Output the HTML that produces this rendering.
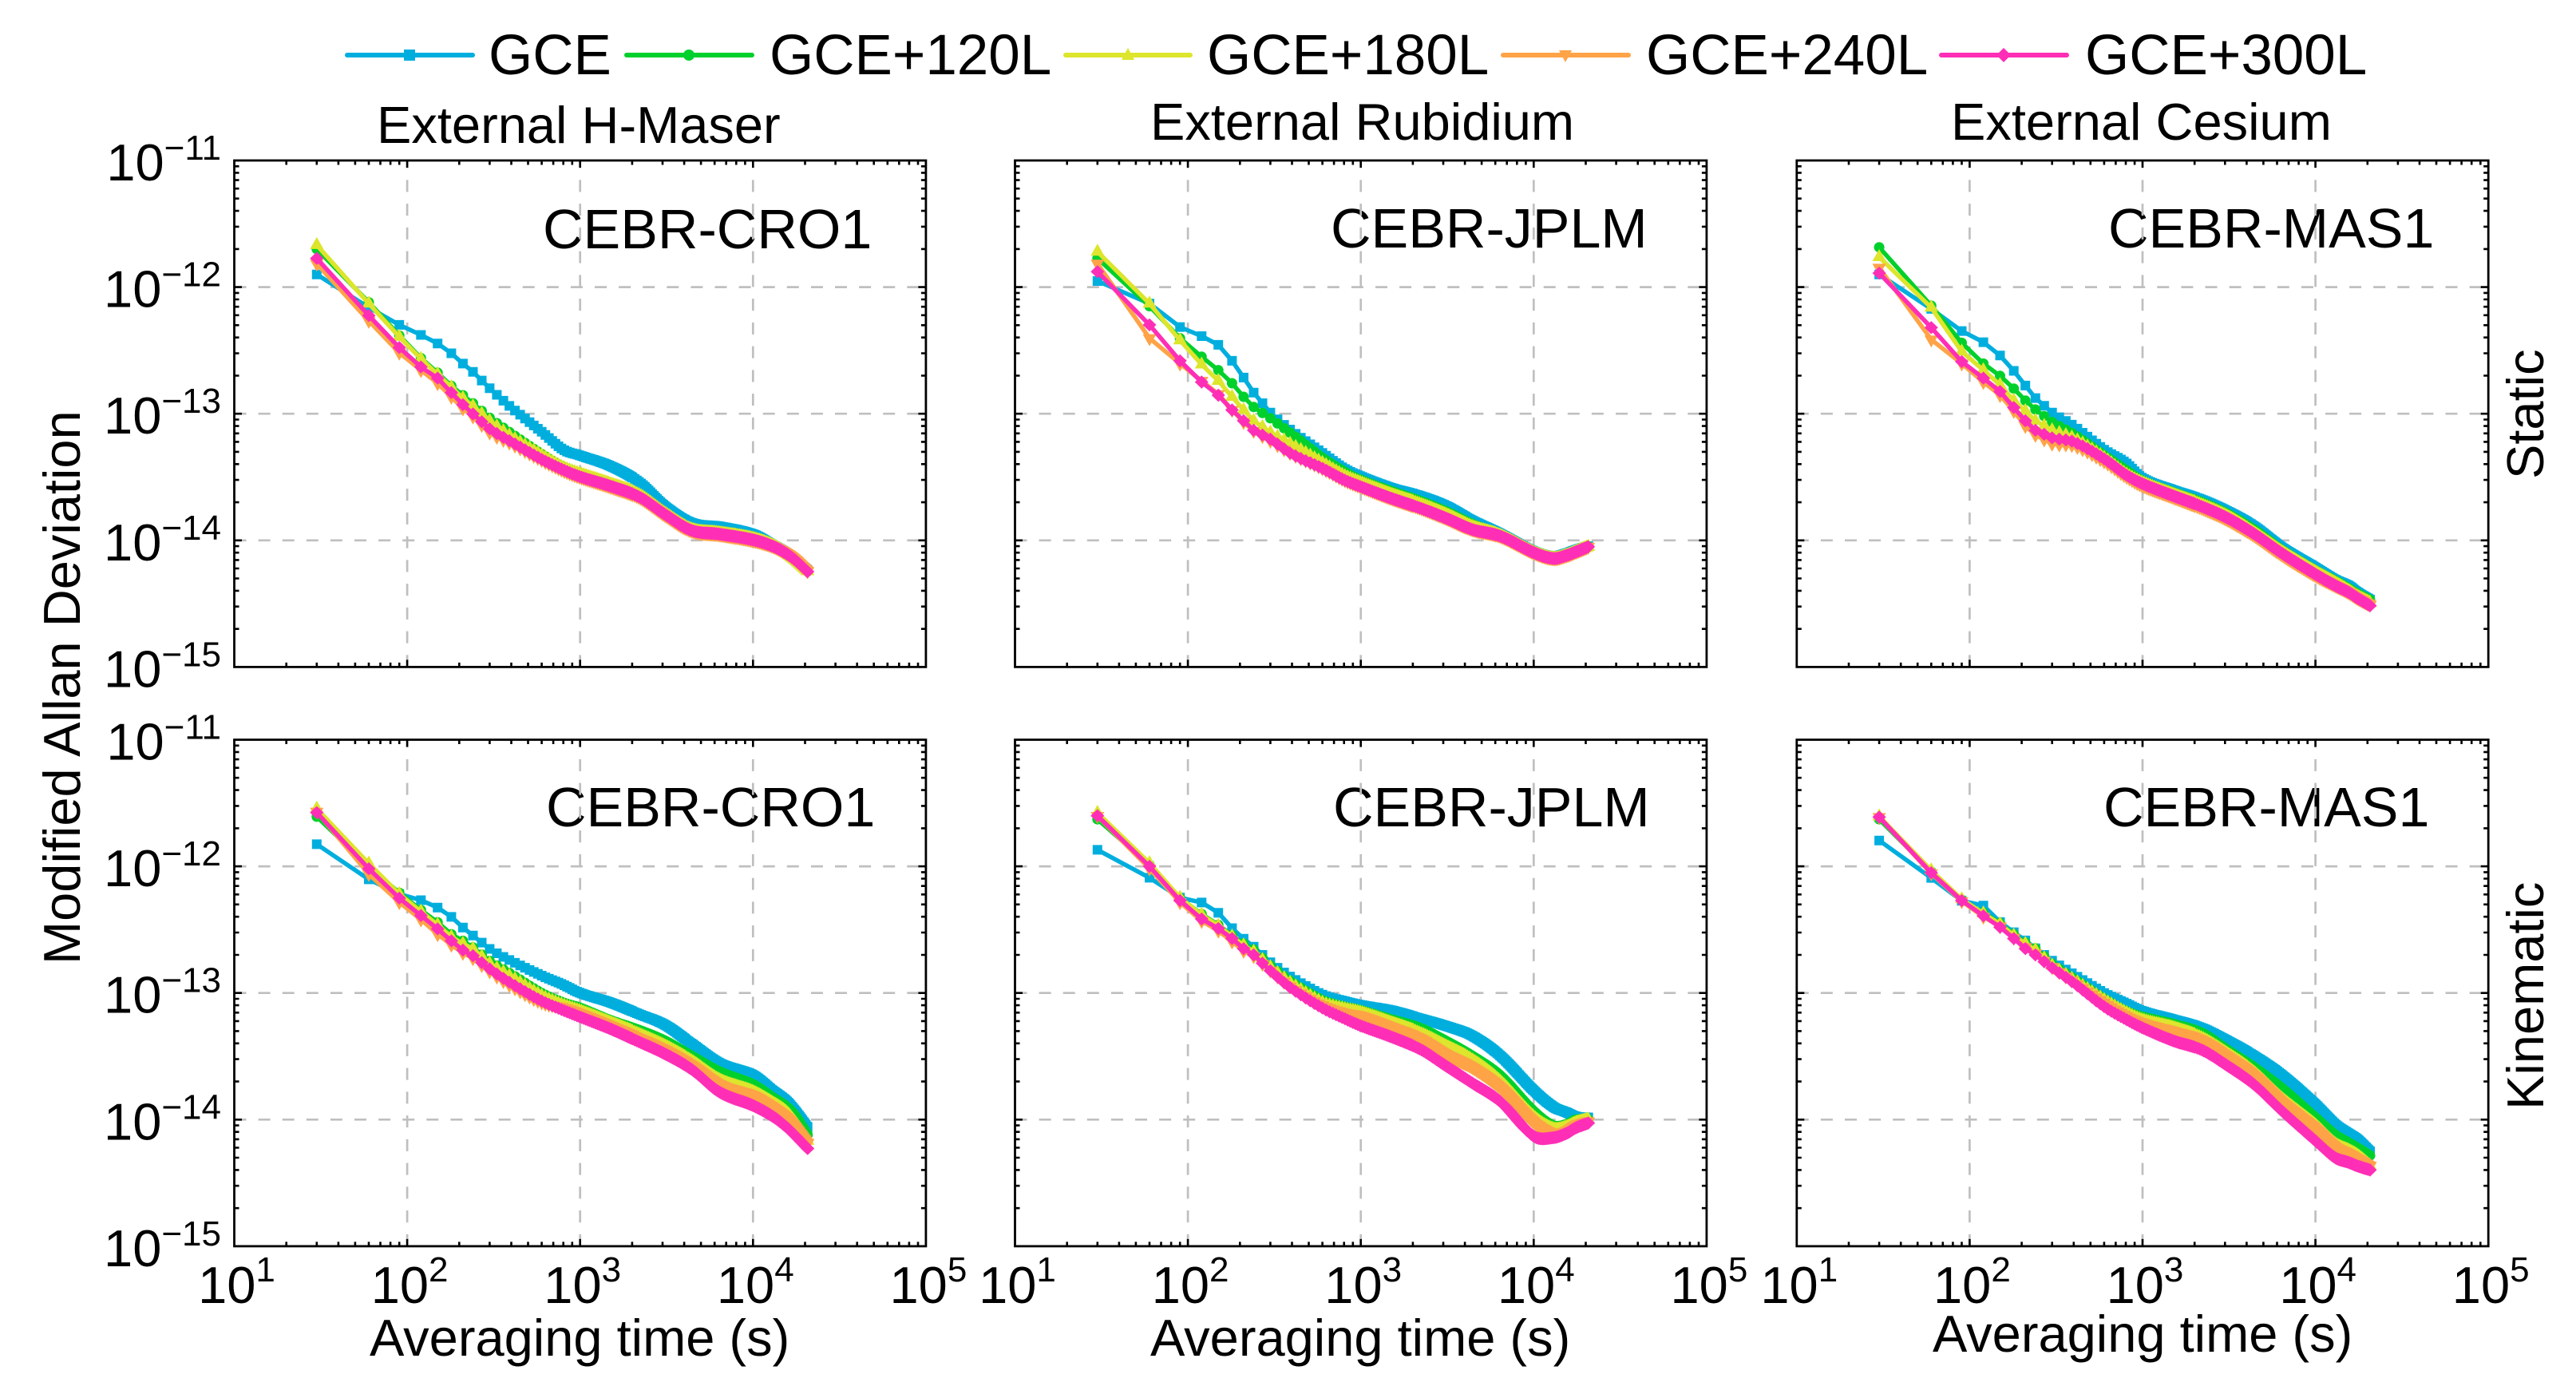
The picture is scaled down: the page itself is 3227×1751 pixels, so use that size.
<!DOCTYPE html>
<html lang="en">
<head>
<meta charset="utf-8">
<title>Modified Allan Deviation chart</title>
<style>
html,body{margin:0;padding:0;background:#fff;}
svg{display:block;}
text{font-family:"Liberation Sans",Arial,sans-serif;fill:#000;}
</style>
</head>
<body>
<svg id="chart" xmlns="http://www.w3.org/2000/svg" width="3227" height="1751" viewBox="0 0 3227 1751">
  <rect x="0" y="0" width="3227" height="1751" fill="#fff"/>

  <g>
    <g>
      <line x1="435" y1="69" x2="592" y2="69" stroke="#00AEDE" stroke-width="6" stroke-linecap="round"/>
      <rect x="506" y="62" width="14" height="14" fill="#00AEDE"/>
      <text x="612" y="93" font-size="71">GCE</text>
    </g>
    <g>
      <line x1="785" y1="69" x2="942" y2="69" stroke="#00D02C" stroke-width="6" stroke-linecap="round"/>
      <circle cx="863" cy="69" r="7" fill="#00D02C"/>
      <text x="964" y="93" font-size="71">GCE+120L</text>
    </g>
    <g>
      <line x1="1335" y1="69" x2="1491" y2="69" stroke="#DDE52C" stroke-width="6" stroke-linecap="round"/>
      <path d="M1413 60 L1421 75 L1405 75 Z" fill="#DDE52C"/>
      <text x="1512" y="93" font-size="71">GCE+180L</text>
    </g>
    <g>
      <line x1="1883" y1="69" x2="2040" y2="69" stroke="#FFA347" stroke-width="6" stroke-linecap="round"/>
      <path d="M1961 78 L1969 63 L1953 63 Z" fill="#FFA347"/>
      <text x="2062" y="93" font-size="71">GCE+240L</text>
    </g>
    <g>
      <line x1="2432" y1="69" x2="2589" y2="69" stroke="#FF2EB6" stroke-width="6" stroke-linecap="round"/>
      <path d="M2510 60 L2519 69 L2510 78 L2501 69 Z" fill="#FF2EB6"/>
      <text x="2612" y="93" font-size="71">GCE+300L</text>
    </g>
  </g>

  <text x="472" y="179" font-size="65">External H-Maser</text>
  <text x="1441" y="175" font-size="65">External Rubidium</text>
  <text x="2444" y="175" font-size="65">External Cesium</text>

  <text x="680" y="311" font-size="70">CEBR-CRO1</text>
  <text x="1667" y="310" font-size="70">CEBR-JPLM</text>
  <text x="2641" y="310" font-size="70">CEBR-MAS1</text>
  <text x="684" y="1035" font-size="70">CEBR-CRO1</text>
  <text x="1670" y="1035" font-size="70">CEBR-JPLM</text>
  <text x="2635" y="1035" font-size="70">CEBR-MAS1</text>

  <text transform="translate(100,1208) rotate(-90)" font-size="65">Modified Allan Deviation</text>
  <text transform="translate(3186,600) rotate(-90)" font-size="65">Static</text>
  <text transform="translate(3186,1390) rotate(-90)" font-size="65">Kinematic</text>

  <text x="463" y="1698" font-size="65">Averaging time (s)</text>
  <text x="1441" y="1698" font-size="65">Averaging time (s)</text>
  <text x="2421" y="1693" font-size="65">Averaging time (s)</text>

  <g id="panels"></g>
</svg>

<script>
// Averaging times (s) at which the curves were read
const tauValues = [30,60,90,120,150,180,210,240,300,400,600,800,1000,1500,2200,3100,4400,6400,10000,13000,15500,17500,20700];

// All deviation values are in units of 1e-15
// Static, external H-maser, CEBR-CRO1
const staticCro1Gce  = [1260,690,503,419,359,300,249,214,159,112,72,52,46.8,38.6,28.8,18.6,13.8,12.9,11.2,9.2,8,7,5.8];
const staticCro1L120 = [1995,759,415,275,211,166,140,121,93,70,48,38,34,28,23,16.5,12.3,11.5,10.4,9.2,8,7.1,5.7];
const staticCro1L180 = [2150,741,405,271,205,162,133,115,88,66,47,37.5,33.5,27.8,22.8,16.3,12.2,11.4,10.3,9.1,7.9,7,5.7];
const staticCro1L240 = [1530,541,303,221,174,136,110,95,71,58,43,35.5,31.5,26.5,21.8,15.8,11.9,11.1,10,9,8,7.1,5.7];
const staticCro1L300 = [1686,596,333,234,191,147,118,99.5,76,60,43.6,36,31.8,26.8,22,16,12,11.2,10.1,9,7.9,7,5.66];

// Static, external rubidium, CEBR-JPLM
const staticJplmGce  = [1117,741,484,410,350,262,193,147,102,73,49,37,32,26,22.5,18.8,14.4,11.3,8.2,7.5,7.9,8.4,9];
const staticJplmL120 = [1686,707,395,282,221,174,136,113,92,69,45,35,30,24.5,20.5,17,13.5,11,8.1,7.3,7.7,8.2,9];
const staticJplmL180 = [1905,741,380,245,182,136,107,88,71,57,41,32.5,28.5,23,19.3,16,12.8,10.9,8,7.2,7.6,8.1,8.9];
const staticJplmL240 = [1530,395,249,182,143,107,86,73,61,48,37,30,26.5,21.5,18,15,12.2,10.8,8,7.2,7.6,8.1,8.9];
const staticJplmL300 = [1324,503,262,178,140,107,88,74,63,48,37,30,26.5,21.5,18,15,12.2,10.8,8,7.2,7.6,8.1,8.9];

// Static, external cesium, CEBR-MAS1
const staticMas1Gce  = [1260,673,450,367,288,218,167,133,102,80,52,41,31,25,21,17,13,8.8,6.1,4.9,4.4,3.9,3.4];
const staticMas1L120 = [2065,713,363,249,199,158,127,108,86,69,47,36,29.5,24,20,16.2,12.2,8.4,5.8,4.8,4.2,3.8,3.4];
const staticMas1L180 = [1726,689,310,221,169,127,105,88,74,64,45,33.5,28.5,23,19,15.4,11.5,8.1,5.6,4.6,4,3.6,3.2];
const staticMas1L240 = [1422,385,249,178,140,105,80,68,58,56,42,32,27,22,18,14.6,11,7.7,5.3,4.4,3.9,3.5,3.1];
const staticMas1L300 = [1290,479,258,191,150,112,88,74,64.5,60,44,33,28,22.5,18.5,15,11.3,7.9,5.4,4.4,3.9,3.5,3.05];

// Kinematic, external H-maser, CEBR-CRO1
const kinCro1Gce  = [1496,789,604,540,473,399,329,284,223,179,137,116,100,84,68,56,40,28,22.5,17,14.2,11.8,8.7];
const kinCro1L120 = [2466,995,618,451,362,291,258,229,179,141,100,84,76.5,61,51,42,32,24,19,15,12.8,10.8,7.6];
const kinCro1L180 = [2858,1054,604,440,345,277,245,223,171,134,95,80,72,58,47,38,29,20.5,16.5,13.5,11.5,9.5,6.8];
const kinCro1L240 = [2700,869,521,380,291,240,207,188,148,113,84,76.5,69,55,44,35.5,27,19,15.5,12.5,10.5,8.8,6.5];
const kinCro1L300 = [2655,957,561,409,321,258,218,197,155,119,86.5,73,64.6,52,41,33,25,16.5,12.9,10.6,8.8,7.5,5.9];

// Kinematic, external rubidium, CEBR-JPLM
const kinJplmGce  = [1350,813,566,518,430,325,268,232,175,132,97,86.5,80.5,73,63,55,46,32,17,12.6,11.4,10.6,10.4];
const kinJplmL120 = [2350,1030,560,420,345,285,245,220,165,122,88,78,73,62,53,42,32,22.4,11.7,9,9.2,10,10];
const kinJplmL180 = [2650,1060,565,415,340,280,238,212,160,118,84,75,70,58,48,38,29.5,20,10.5,8.4,8.7,9.4,10];
const kinJplmL240 = [2500,960,520,370,310,255,215,195,150,110,80,70,66,54,44,33,26,18,9.6,7.8,8.1,9,9.7];
const kinJplmL300 = [2512,1000,537,384,323,269,224,200,150,108,76,63,55,45,36,26.6,19.5,13.9,7.4,7.2,7.8,8.6,9.4];

// Kinematic, external cesium, CEBR-MAS1
const kinMas1Gce  = [1600,810,535,490,363,302,260,225,180,140,100,83,72,62,53,42,32,22.5,13.2,9.2,7.8,7,5.6];
const kinMas1L120 = [2350,910,545,430,355,290,250,225,170,130,90,72,65,57,48.5,35.5,26,17.7,10.4,7.6,6.6,6,5.2];
const kinMas1L180 = [2480,930,550,425,350,285,245,218,165,127,88,70,61,53,44,33,23.6,14.6,9,6.4,5.7,5.2,4.3];
const kinMas1L240 = [2450,880,530,400,335,272,230,205,160,122,84,66,58,50,42.5,31.5,22.5,13.8,8.5,6.1,5.4,4.9,4.3];
const kinMas1L300 = [2450,890,537,407,331,269,224,200,158,120,78,62,53,42,35.5,26.6,19,11.7,6.8,5,4.6,4.3,4];

// Axis tick labels (powers of ten)
const xTickExponents = ["1","2","3","4","5"];
const yTickExponents = ["\u221211","\u221212","\u221213","\u221214","\u221215"];
const seriesNames = ["gce","gce-120l","gce-180l","gce-240l","gce-300l"];

const SVGNS = "http://www.w3.org/2000/svg";
const seriesColors = ["#00AEDE","#00D02C","#DDE52C","#FFA347","#FF2EB6"];
const DEC_X = 216.6, DEC_Y = 158.6;

const panelList = [
  {id:"static-cro1", left:293.5,  top:201,   labelsY:true,  labelsX:false, series:[staticCro1Gce,staticCro1L120,staticCro1L180,staticCro1L240,staticCro1L300]},
  {id:"static-jplm", left:1271.5, top:201,   labelsY:false, labelsX:false, series:[staticJplmGce,staticJplmL120,staticJplmL180,staticJplmL240,staticJplmL300]},
  {id:"static-mas1", left:2250.8, top:201,   labelsY:false, labelsX:false, series:[staticMas1Gce,staticMas1L120,staticMas1L180,staticMas1L240,staticMas1L300]},
  {id:"kinematic-cro1", left:293.5,  top:926.5, labelsY:true,  labelsX:true, series:[kinCro1Gce,kinCro1L120,kinCro1L180,kinCro1L240,kinCro1L300]},
  {id:"kinematic-jplm", left:1271.5, top:926.5, labelsY:false, labelsX:true, series:[kinJplmGce,kinJplmL120,kinJplmL180,kinJplmL240,kinJplmL300]},
  {id:"kinematic-mas1", left:2250.8, top:926.5, labelsY:false, labelsX:true, series:[kinMas1Gce,kinMas1L120,kinMas1L180,kinMas1L240,kinMas1L300]}
];

function make(tag, parent) {
  const el = document.createElementNS(SVGNS, tag);
  parent.appendChild(el);
  return el;
}

// Curve through the read values in log-log space: straight between the first
// discrete averaging times, smooth (Catmull-Rom) along the dense tail.
function curveAt(tau, values) {
  const n = tauValues.length;
  const X = tauValues.map(Math.log10);
  const P = values.map(Math.log10);
  const lt = Math.log10(tau);
  let i = 0;
  while (i < n - 2 && tau > tauValues[i + 1]) i++;
  const h = X[i + 1] - X[i];
  const f = (lt - X[i]) / h;
  if (i < 8) return Math.pow(10, P[i] + f * (P[i + 1] - P[i]));
  const m0 = (P[i + 1] - P[i - 1]) / (X[i + 1] - X[i - 1]);
  const m1 = i + 2 < n ? (P[i + 2] - P[i]) / (X[i + 2] - X[i]) : (P[i + 1] - P[i]) / h;
  const f2 = f * f, f3 = f2 * f;
  const out = (2 * f3 - 3 * f2 + 1) * P[i] + (f3 - 2 * f2 + f) * h * m0 + (-2 * f3 + 3 * f2) * P[i + 1] + (f3 - f2) * h * m1;
  return Math.pow(10, out);
}

function markerPath(kind, x, y) {
  const X = x.toFixed(1), Y = y.toFixed(1);
  if (kind === 0) return "M" + (x - 6).toFixed(1) + " " + (y - 6).toFixed(1) + "h12v12h-12z";
  if (kind === 1) return "M" + (x - 6.5).toFixed(1) + " " + Y + "a6.5 6.5 0 1 0 13 0a6.5 6.5 0 1 0 -13 0z";
  if (kind === 2) return "M" + X + " " + (y - 10).toFixed(1) + "l8.5 15h-17z";
  if (kind === 3) return "M" + X + " " + (y + 10).toFixed(1) + "l8.5 -15h-17z";
  return "M" + (x - 8.5).toFixed(1) + " " + Y + "l8.5 -8.2l8.5 8.2l-8.5 8.2z";
}

function drawPanel(p, root) {
  const g = make("g", root);
  
  

  const xScale = function (tau) { return p.left + (Math.log10(tau) - 1) * DEC_X; };
  const yScale = function (v) { return p.top + (4 - Math.log10(v)) * DEC_Y; };
  const width = 4 * DEC_X, height = 4 * DEC_Y;
  const right = p.left + width, bottom = p.top + height;

  // Grid
  const grid = make("g", g);
  
  
  grid.setAttribute("stroke", "#BFBFBF");
  grid.setAttribute("stroke-width", "2.7");
  [2, 3, 4].forEach(function (e) {
    const l = make("line", grid);
    
    
    const x = xScale(Math.pow(10, e));
    l.setAttribute("x1", x); l.setAttribute("x2", x);
    l.setAttribute("y1", bottom); l.setAttribute("y2", p.top);
    l.setAttribute("stroke-dasharray", "15 14.75");
  });
  [1000, 100, 10].forEach(function (v) {
    const l = make("line", grid);
    
    
    const y = yScale(v);
    l.setAttribute("x1", p.left); l.setAttribute("x2", right);
    l.setAttribute("y1", y); l.setAttribute("y2", y);
    l.setAttribute("stroke-dasharray", "15 15.1");
  });

  // Series
  p.series.forEach(function (vals, s) {
    const sg = make("g", g);
    
    

    // Markers at each 30 s multiple, thinned where they would overlap entirely
    let md = "", ld = "", lastX = -1e9;
    const tauEnd = tauValues[tauValues.length - 1];
    for (let t = tauValues[0]; t <= tauEnd; t += 30) {
      const x = xScale(t);
      if (x - lastX >= 1.4) {
        const y = yScale(curveAt(t, vals));
        md += markerPath(s, x, y);
        ld += (ld ? "L" : "M") + x.toFixed(1) + " " + y.toFixed(1);
        lastX = x;
      }
    }
    const xEnd = xScale(tauEnd), yEnd = yScale(vals[vals.length - 1]);
    md += markerPath(s, xEnd, yEnd);
    ld += "L" + xEnd.toFixed(1) + " " + yEnd.toFixed(1);

    const line = make("path", sg);
    
    
    line.setAttribute("d", ld);
    line.setAttribute("fill", "none");
    line.setAttribute("stroke", seriesColors[s]);
    line.setAttribute("stroke-width", "5.5");
    line.setAttribute("stroke-linejoin", "round");

    const mk = make("path", sg);
    
    
    mk.setAttribute("d", md);
    mk.setAttribute("fill", seriesColors[s]);
  });

  // Ticks
  let td = "";
  for (let e = 1; e <= 4; e++) {
    for (let m = 1; m <= 9; m++) {
      const x = xScale(m * Math.pow(10, e));
      const len = m === 1 ? 9 : 5.5;
      if (m === 1 && e === 1) continue;
      td += "M" + x.toFixed(1) + " " + p.top + "v" + len + "M" + x.toFixed(1) + " " + bottom.toFixed(1) + "v-" + len;
    }
  }
  for (let e = 0; e <= 3; e++) {
    for (let m = 1; m <= 9; m++) {
      const y = yScale(m * Math.pow(10, e));
      const len = m === 1 ? 9.5 : 6;
      if (m === 1 && e === 0) continue;
      td += "M" + p.left + " " + y.toFixed(1) + "h" + len + "M" + right.toFixed(1) + " " + y.toFixed(1) + "h-" + len;
    }
  }
  const ticks = make("path", g);
  
  
  ticks.setAttribute("d", td);
  ticks.setAttribute("stroke", "#000");
  ticks.setAttribute("stroke-width", "2.6");
  ticks.setAttribute("fill", "none");

  // Frame
  const frame = make("rect", g);
  
  
  frame.setAttribute("x", p.left);
  frame.setAttribute("y", p.top);
  frame.setAttribute("width", width);
  frame.setAttribute("height", height);
  frame.setAttribute("fill", "none");
  frame.setAttribute("stroke", "#000");
  frame.setAttribute("stroke-width", "2.8");

  // Tick labels
  if (p.labelsX) {
    xTickExponents.forEach(function (ex, i) {
      const t = make("text", g);
      
      
      t.setAttribute("x", (xScale(Math.pow(10, i + 1)) + 3).toFixed(1));
      t.setAttribute("y", "1632");
      t.setAttribute("font-size", "65");
      t.setAttribute("text-anchor", "middle");
      const a = make("tspan", t);
      a.textContent = "10";
      const b = make("tspan", t);
      b.setAttribute("font-size", "44");
      b.setAttribute("dy", "-27");
      b.textContent = ex;
    });
  }
  if (p.labelsY) {
    yTickExponents.forEach(function (ex, i) {
      const t = make("text", g);
      
      
      t.setAttribute("x", "277");
      t.setAttribute("y", (p.top + i * DEC_Y + 25).toFixed(1));
      t.setAttribute("font-size", "65");
      t.setAttribute("text-anchor", "end");
      const a = make("tspan", t);
      a.textContent = "10";
      const b = make("tspan", t);
      b.setAttribute("font-size", "44");
      b.setAttribute("dy", "-26");
      b.textContent = ex;
    });
  }
}

const rootGroup = document.getElementById("panels");
panelList.forEach(function (p) { drawPanel(p, rootGroup); });
</script>
</body>
</html>
